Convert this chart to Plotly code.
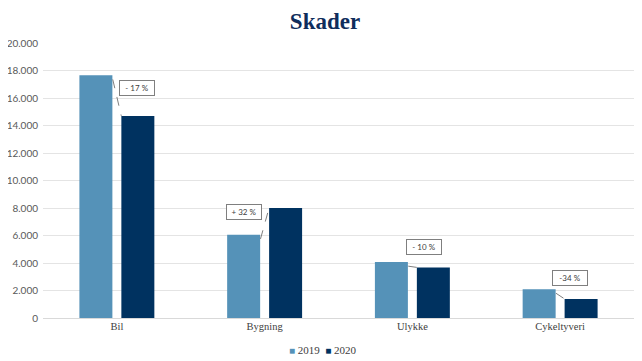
import plotly.graph_objects as go

categories = ["Bil", "Bygning", "Ulykke", "Cykeltyveri"]
values_2019 = [17650, 6050, 4070, 2100]
values_2020 = [14700, 8000, 3680, 1390]
series_names = ["2019", "2020"]
change_labels = ["- 17 %", "+ 32 %", "- 10 %", "-34 %"]
# label anchor (category offset, y value) for change boxes
label_dx = [0.137, -0.14, 0.077, 0.068]
label_y = [16740, 7700, 5190, 2930]
y_ticks = list(range(0, 20001, 2000))

c2019 = "#5592B8"
c2020 = "#003260"

fig = go.Figure()
fig.add_trace(go.Bar(name=series_names[0], x=list(range(4)), y=values_2019, marker_color=c2019,
                     marker_line_width=0))
fig.add_trace(go.Bar(name=series_names[1], x=list(range(4)), y=values_2020, marker_color=c2020,
                     marker_line_width=0))

shapes = []
annotations = []
for i in range(4):
    shapes.append(dict(type="line", xref="x", yref="y",
                       x0=i - 0.028, y0=values_2019[i] - 300,
                       x1=i + 0.03, y1=values_2020[i],
                       line=dict(color="#7f7f7f", width=1, dash="dash")))
    annotations.append(dict(x=i + label_dx[i], y=label_y[i], xref="x", yref="y",
                            text=change_labels[i], showarrow=False,
                            font=dict(family="Lato", size=8, color="#404040"),
                            bgcolor="white", bordercolor="#7f7f7f", borderwidth=1,
                            borderpad=2, width=30))

# compact legend drawn as text
legend_text = (f"<span style='color:{c2019}; font-size:10px'>■</span> {series_names[0]}  "
               f"<span style='color:{c2020}; font-size:10px'>■</span> {series_names[1]}")
annotations.append(dict(x=0.474, y=-0.116, xref="paper", yref="paper", text=legend_text,
                        showarrow=False, xanchor="center", yanchor="middle",
                        font=dict(family="Liberation Serif", size=11, color="#404040")))

fig.update_layout(
    width=634, height=353,
    margin=dict(l=35, r=8, t=35, b=43, autoexpand=False),
    paper_bgcolor="white", plot_bgcolor="white",
    separators=",.",
    title=dict(text="<b>Skader</b>", x=0.5, xanchor="center", y=0.963, yanchor="middle",
               font=dict(family="Liberation Serif", size=23, color="#0F2D5C")),
    barmode="group", bargap=0.432, bargroupgap=0.214,
    showlegend=False,
    xaxis=dict(tickmode="array", tickvals=list(range(4)), ticktext=categories,
               range=[-0.5, 3.5], showgrid=False, showline=False, zeroline=False,
               tickfont=dict(family="Liberation Serif", size=10.5, color="#404040"),
               ticks="", automargin=False),
    yaxis=dict(range=[0, 20000], tickvals=y_ticks, tickformat=",d",
               showgrid=True, gridcolor="#e4e4e4", gridwidth=1,
               zeroline=True, zerolinecolor="#d9d9d9", zerolinewidth=1,
               showline=False, ticks="", automargin=False, ticklabelstandoff=4,
               tickfont=dict(family="Lato", size=10, color="#595959")),
    shapes=shapes, annotations=annotations,
)

fig.write_html("out.html")
